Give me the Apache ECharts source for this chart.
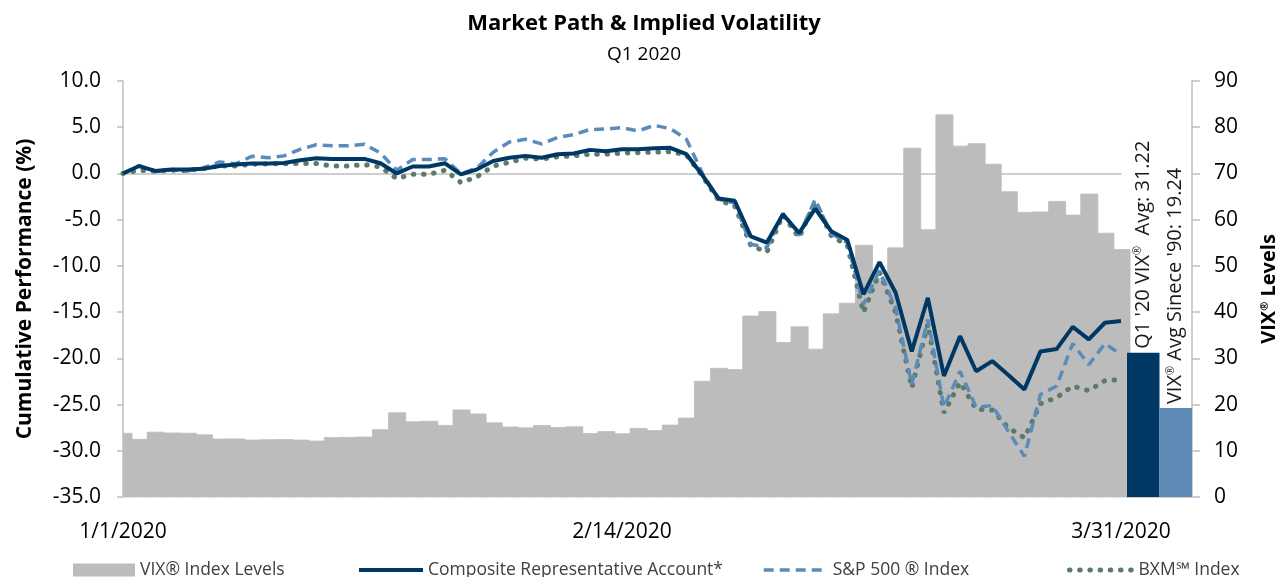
<!DOCTYPE html>
<html>
<head>
<meta charset="utf-8">
<script src="https://cdn.jsdelivr.net/npm/echarts@6/dist/echarts.min.js"></script>
<style>html,body{margin:0;padding:0;background:#fff}#c{width:1288px;height:577px}</style>
</head>
<body>
<div id="c"></div>
<script>
const dates = ['1/1/2020','1/2/2020','1/3/2020','1/6/2020','1/7/2020','1/8/2020','1/9/2020','1/10/2020','1/13/2020','1/14/2020','1/15/2020','1/16/2020','1/17/2020','1/21/2020','1/22/2020','1/23/2020','1/24/2020','1/27/2020','1/28/2020','1/29/2020','1/30/2020','1/31/2020',
'2/3/2020','2/4/2020','2/5/2020','2/6/2020','2/7/2020','2/10/2020','2/11/2020','2/12/2020','2/13/2020','2/14/2020','2/18/2020','2/19/2020','2/20/2020','2/21/2020','2/24/2020','2/25/2020','2/26/2020','2/27/2020','2/28/2020',
'3/2/2020','3/3/2020','3/4/2020','3/5/2020','3/6/2020','3/9/2020','3/10/2020','3/11/2020','3/12/2020','3/13/2020','3/16/2020','3/17/2020','3/18/2020','3/19/2020','3/20/2020','3/23/2020','3/24/2020','3/25/2020','3/26/2020','3/27/2020','3/30/2020','3/31/2020'];
const xTickLabels = ['1/1/2020','2/14/2020','3/31/2020'];

const vixLevels = [13.78,12.47,14.02,13.85,13.79,13.45,12.54,12.56,12.32,12.39,12.42,12.32,12.10,12.85,12.91,12.98,14.56,18.23,16.28,16.39,15.49,18.84,
17.97,16.05,15.15,14.96,15.47,15.04,15.18,13.74,14.15,13.68,14.83,14.38,15.56,17.08,25.03,27.85,27.56,39.16,40.11,
33.42,36.82,31.99,39.62,41.94,54.46,47.30,53.90,75.47,57.83,82.69,75.91,76.45,72.00,66.04,61.59,61.67,63.95,61.00,65.54,57.08,53.54];

const composite = [0,0.8,0.27,0.42,0.42,0.5,0.8,0.96,1.07,1.07,1.14,1.43,1.65,1.57,1.57,1.57,1.1,0.0,0.75,0.75,1.1,-0.1,
0.45,1.35,1.7,1.9,1.7,2.08,2.15,2.55,2.4,2.62,2.62,2.73,2.77,2.08,-0.2,-2.7,-2.95,-6.8,-7.48,
-4.42,-6.45,-3.8,-6.25,-7.2,-13.07,-9.6,-12.9,-19.25,-13.45,-21.9,-17.6,-21.4,-20.3,-21.8,-23.36,-19.25,-19.0,-16.6,-17.95,-16.15,-15.95];

const sp500 = [0,0.85,0.2,0.4,0.25,0.6,1.25,1.05,1.85,1.7,1.9,2.6,3.1,3.0,3.0,3.15,2.2,0.35,1.5,1.5,1.6,-0.05,
0.6,2.3,3.4,3.7,3.2,3.9,4.2,4.75,4.8,4.95,4.6,5.2,4.85,3.7,0.0,-2.8,-3.2,-7.66,-8.0,
-4.3,-6.7,-2.8,-6.5,-7.5,-14.2,-10.5,-14.6,-22.8,-15.8,-25.3,-21.4,-25.3,-25.1,-27.9,-30.6,-23.9,-23.0,-18.4,-20.7,-18.4,-19.6];

const bxm = [0,0.35,0.24,0.35,0.3,0.55,0.8,0.8,1.0,1.03,1.05,1.07,1.07,0.8,0.8,0.95,0.7,-0.55,-0.1,-0.1,0.35,-1.0,
-0.35,0.8,1.2,1.65,1.55,1.8,1.9,2.08,2.08,2.2,2.25,2.3,2.35,2.0,-0.3,-2.9,-3.5,-7.8,-8.5,
-4.5,-6.94,-3.05,-6.75,-7.8,-15.05,-10.7,-15.05,-23.2,-16.3,-25.9,-22.6,-25.5,-25.6,-27.5,-28.6,-24.9,-24.25,-23.0,-23.5,-22.4,-22.3];

const avgNames = ["Q1 '20 VIX Avg", "VIX Avg Since '90"];
const avgLabelPre = ["Q1 '20 VIX", "VIX"];
const avgLabelPost = ["  Avg: ", " Avg Sinece '90: "];
const avgValues = [31.22, 19.24];

const seriesNames = ['VIX® Index Levels','Composite Representative Account*','S&P 500 ® Index','BXM℠ Index'];
const leftTicks = {min: -35, max: 10, interval: 5};
const rightTicks = {min: 0, max: 90, interval: 10};

const FONT = "'Open Sans', 'Noto Sans', sans-serif";
const C_GRAY = '#bcbcbc', C_NAVY = '#003865', C_SP = '#5b8bbd', C_BXM = '#5b7b68', C_AVG2 = '#5f8ab5';
const AX = '#bfbfbf';

const LS_COMP = {color: C_NAVY, width: 4};
const LS_SP = {color: C_SP, width: 3.5, type: [10, 6], cap: 'butt'};
const LS_BXM = {color: C_BXM, width: 5, type: [0.5, 9.7], cap: 'round'};

const chart = echarts.init(document.getElementById('c'), null, {renderer: 'canvas'});

function renderVix(params, api) {
  const top = api.coord([api.value(0), api.value(1)]);
  const base = api.coord([api.value(0), 0]);
  const w = api.size([1, 0])[0];
  const cs = params.coordSys;
  let x0 = top[0] - w / 2, x1 = top[0] + w / 2 + 1;
  x0 = Math.max(x0, cs.x + 0.5);
  const c = api.visual('color');
  return {type: 'rect', shape: {x: x0, y: top[1], width: x1 - x0, height: base[1] - top[1]},
    style: {fill: c, stroke: c, lineWidth: 0.8}};
}

const supRich = {
  a: {fontSize: 20, color: '#1a1a1a', fontFamily: FONT},
  s: {fontSize: 11, color: '#1a1a1a', fontFamily: FONT, verticalAlign: 'top', padding: [0, 0, 10, 0]}
};

const legendText = {fontSize: 17.5, color: '#404040', fontFamily: FONT};
const legendLefts = [68, 352, 757, 1062];
const hiddenSym = {opacity: 0, borderWidth: 0};

chart.setOption({
  animation: false,
  textStyle: {fontFamily: FONT},
  title: {
    text: 'Market Path & Implied Volatility', subtext: 'Q1 2020', left: 'center', top: 8, itemGap: 10,
    textStyle: {fontSize: 22, fontWeight: 'bold', color: '#000', fontFamily: FONT},
    subtextStyle: {fontSize: 19, color: '#000', fontFamily: FONT}
  },
  legend: [
    {top: 556, left: legendLefts[0], itemWidth: 62, itemHeight: 13, textStyle: legendText,
     data: [{name: seriesNames[0], icon: 'rect'}]},
    {top: 556, left: legendLefts[1], itemWidth: 64, itemHeight: 13, textStyle: legendText,
     data: [{name: seriesNames[1], itemStyle: hiddenSym, lineStyle: LS_COMP}]},
    {top: 556, left: legendLefts[2], itemWidth: 64, itemHeight: 13, textStyle: legendText,
     data: [{name: seriesNames[2], itemStyle: hiddenSym, lineStyle: LS_SP}]},
    {top: 556, left: legendLefts[3], itemWidth: 64, itemHeight: 13, textStyle: legendText,
     data: [{name: seriesNames[3], itemStyle: hiddenSym, lineStyle: LS_BXM}]}
  ],
  grid: [
    {left: 123, right: 1288 - 1121, top: 81, bottom: 80},
    {left: 1127, right: 1288 - 1192, top: 81, bottom: 80}
  ],
  xAxis: [
    {type: 'category', gridIndex: 0, data: dates, boundaryGap: false,
     axisLine: {show: true, lineStyle: {color: AX, width: 1.5}}, axisTick: {show: false},
     axisLabel: {interval: 0, margin: 25, fontSize: 21, color: '#000',
       formatter: v => xTickLabels.indexOf(v) >= 0 ? v : ''}},
    {type: 'category', gridIndex: 1, data: avgNames,
     axisLine: {show: true, lineStyle: {color: AX, width: 1.5}}, axisTick: {show: false}, axisLabel: {show: false}}
  ],
  yAxis: [
    {type: 'value', gridIndex: 0, position: 'left', min: leftTicks.min, max: leftTicks.max, interval: leftTicks.interval,
     splitLine: {show: false}, axisLine: {show: true, lineStyle: {color: AX, width: 1.5}},
     axisTick: {show: true, inside: false, length: 6, lineStyle: {color: AX, width: 1.5}},
     axisLabel: {formatter: v => v.toFixed(1), fontSize: 21, color: '#000', margin: 22},
     name: 'Cumulative Performance (%)', nameLocation: 'middle', nameGap: 87, nameRotate: 90,
     nameTextStyle: {fontSize: 21, fontWeight: 'bold', color: '#000', fontFamily: FONT}},
    {type: 'value', gridIndex: 0, min: rightTicks.min, max: rightTicks.max, interval: rightTicks.interval, show: false},
    {type: 'value', gridIndex: 1, position: 'right', min: rightTicks.min, max: rightTicks.max, interval: rightTicks.interval,
     splitLine: {show: false}, axisLine: {show: true, lineStyle: {color: AX, width: 1.5}},
     axisTick: {show: true, inside: false, length: 8, lineStyle: {color: AX, width: 1.5}},
     axisLabel: {fontSize: 21, color: '#000', margin: 22},
     name: '{b|VIX}{bs|®}{b| Levels}', nameLocation: 'middle', nameGap: 67, nameRotate: 90,
     nameTextStyle: {rich: {
       b: {fontSize: 20, fontWeight: 'bold', color: '#000', fontFamily: FONT},
       bs: {fontSize: 11, fontWeight: 'bold', color: '#000', fontFamily: FONT, verticalAlign: 'top', padding: [0, 0, 9, 0]}
     }}}
  ],
  series: [
    {name: seriesNames[0], type: 'custom', xAxisIndex: 0, yAxisIndex: 1, z: 1,
     itemStyle: {color: C_GRAY}, encode: {x: 0, y: 1},
     data: vixLevels.map((v, i) => [i, v]), renderItem: renderVix},
    {name: seriesNames[1], type: 'line', xAxisIndex: 0, yAxisIndex: 0, z: 5, symbol: 'none', showSymbol: false,
     data: composite, lineStyle: LS_COMP, itemStyle: {color: C_NAVY}},
    {name: seriesNames[2], type: 'line', xAxisIndex: 0, yAxisIndex: 0, z: 4, symbol: 'none', showSymbol: false,
     data: sp500, lineStyle: LS_SP, itemStyle: {color: C_SP}},
    {name: seriesNames[3], type: 'line', xAxisIndex: 0, yAxisIndex: 0, z: 3, symbol: 'none', showSymbol: false,
     data: bxm, lineStyle: LS_BXM, itemStyle: {color: C_BXM}},
    {name: 'avg', type: 'bar', xAxisIndex: 1, yAxisIndex: 2, barWidth: '100%', barCategoryGap: 0, z: 2,
     data: avgValues.map((v, i) => ({value: v, itemStyle: {color: i === 0 ? C_NAVY : C_AVG2}})),
     label: {show: true, position: 'top', rotate: 90, align: 'left', verticalAlign: 'middle', distance: 4,
       formatter: p => '{a|' + avgLabelPre[p.dataIndex] + '}{s|®}{a|' + avgLabelPost[p.dataIndex] + avgValues[p.dataIndex].toFixed(2) + '}',
       rich: supRich}}
  ]
});
</script>
</body>
</html>
